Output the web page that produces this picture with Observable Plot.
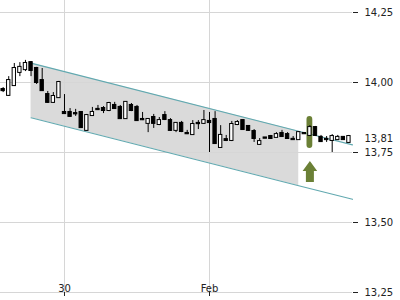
<!DOCTYPE html>
<html><head><meta charset="utf-8">
<script src="https://cdn.jsdelivr.net/npm/d3@7"></script>
<script src="https://cdn.jsdelivr.net/npm/@observablehq/plot@0.6"></script>
<style>html,body{margin:0;padding:0;background:#fff}#chart{width:400px;height:300px}</style>
</head><body><div id="chart"></div>
<script>
const opens = [13.975,13.954,13.989,14.036,14.046,14.071,14.050,14.007,13.957,13.929,
13.946,13.893,13.893,13.889,13.893,13.829,13.882,13.904,13.907,13.900,
13.918,13.911,13.871,13.918,13.911,13.868,13.854,13.875,13.850,13.882,
13.864,13.829,13.854,13.818,13.814,13.854,13.854,13.861,13.868,13.768,
13.796,13.793,13.850,13.864,13.843,13.825,13.779,13.802,13.807,13.804,
13.818,13.814,13.797,13.796,13.818,13.811,13.839,13.804,13.797,13.793,
13.796,13.804,13.786];
const highs = [13.982,14.021,14.068,14.071,14.079,14.075,14.054,14.050,13.968,13.964,
14.004,13.957,13.907,13.904,13.896,13.886,13.911,13.918,13.914,13.929,
13.929,13.918,13.932,13.925,13.918,13.893,13.871,13.886,13.875,13.896,
13.871,13.857,13.861,13.829,13.864,13.864,13.900,13.893,13.896,13.846,
13.811,13.861,13.864,13.866,13.846,13.832,13.800,13.803,13.811,13.821,
13.829,13.821,13.807,13.825,13.819,13.846,13.843,13.811,13.807,13.814,
13.811,13.807,13.811];
const lows = [13.964,13.950,13.986,14.021,14.039,14.021,13.993,13.968,13.925,13.925,
13.943,13.886,13.875,13.879,13.836,13.825,13.879,13.900,13.889,13.896,
13.904,13.868,13.868,13.896,13.861,13.864,13.821,13.836,13.846,13.864,
13.825,13.821,13.821,13.814,13.814,13.832,13.850,13.750,13.779,13.768,
13.789,13.789,13.846,13.829,13.825,13.786,13.775,13.800,13.800,13.804,
13.804,13.800,13.796,13.796,13.816,13.807,13.807,13.786,13.786,13.750,
13.793,13.793,13.782];
const closes = [13.971,14.007,14.050,14.054,14.068,14.043,14.000,13.971,13.929,13.950,
14.000,13.889,13.879,13.888,13.839,13.882,13.893,13.903,13.900,13.925,
13.907,13.871,13.929,13.900,13.864,13.867,13.868,13.854,13.864,13.868,
13.829,13.854,13.825,13.817,13.850,13.853,13.864,13.857,13.782,13.811,
13.793,13.850,13.857,13.832,13.829,13.800,13.789,13.801,13.800,13.814,
13.807,13.800,13.796,13.821,13.817,13.839,13.811,13.789,13.796,13.807,
13.804,13.796,13.807];

const xTickIndex = [11, 37];
const xTickLabels = ["30", "Feb"];
const yTicks = [13.25, 13.5, 13.75, 14.0, 14.25];

const channelIndex = [5, 53, 62.64];
const channelUpper = [14.069, 13.826, 13.7775];
const channelLower = [13.874, 13.6314, 13.5829];
const fillEndIndex = 53;

const signalIndex = 55;
const signalTop = 13.879;
const signalBottom = 13.764;
const arrowCenter = 13.682;

const candles = opens.map((o, i) => ({i, open: o, high: highs[i], low: lows[i], close: closes[i]}));
const channel = channelIndex.map((x, k) => ({i: x, upper: channelUpper[k], lower: channelLower[k]}));
const fmt = d => d3.format(".2f")(d).replace(".", ",");
const green = "#6b8036";
const teal = "#62a9b0";

const arrowSymbol = {
  draw(ctx) {
    ctx.moveTo(0, -10.5);
    ctx.lineTo(7.3, -0.5);
    ctx.lineTo(4, -0.5);
    ctx.lineTo(4, 10.5);
    ctx.lineTo(-4, 10.5);
    ctx.lineTo(-4, -0.5);
    ctx.lineTo(-7.3, -0.5);
    ctx.closePath();
  }
};

const last = candles[candles.length - 1];

const chart = Plot.plot({
  width: 400, height: 300,
  marginLeft: 0, marginRight: 48, marginTop: 0, marginBottom: 8,
  x: {type: "linear", domain: [-0.475, 62.64], axis: null},
  y: {domain: [13.25, 14.2929], axis: null},
  style: {fontFamily: "DejaVu Sans", fontSize: "10px", color: "#222", background: "white"},
  marks: [
    Plot.areaY(channel.filter(d => d.i <= fillEndIndex), {x: "i", y1: "lower", y2: "upper", fill: "#dadada"}),
    Plot.gridY(yTicks, {stroke: "#d6d6d6", strokeOpacity: 1}),
    Plot.gridX(xTickIndex, {stroke: "#d6d6d6", strokeOpacity: 1}),
    Plot.line(channel, {x: "i", y: "upper", stroke: teal, strokeWidth: 1.2}),
    Plot.line(channel, {x: "i", y: "lower", stroke: teal, strokeWidth: 1.2}),
    Plot.rect([signalIndex], {x1: d => d - 0.52, x2: d => d + 0.52, y1: signalBottom, y2: signalTop, fill: green, rx: 3}),
    Plot.ruleX(candles, {x: "i", y1: "low", y2: "high", stroke: "black", strokeWidth: 1}),
    Plot.rect(candles, {x1: d => d.i - 0.3, x2: d => d.i + 0.3, y1: "open", y2: "close",
      fill: d => d.close >= d.open ? "white" : "black", stroke: "black", strokeWidth: 1,
      insetTop: -0.5, insetBottom: -0.5}),
    Plot.dot([signalIndex], {x: d => d, y: arrowCenter, symbol: arrowSymbol, fill: green, stroke: "none", r: 5}),
    Plot.axisY(yTicks, {anchor: "right", label: null, tickSize: 5, tickPadding: 7, tickFormat: fmt, fontSize: 10, stroke: "#222"}),
    Plot.axisX(xTickIndex, {anchor: "bottom", label: null, tickSize: 4, tickPadding: -12, tickFormat: d => xTickLabels[xTickIndex.indexOf(d)], fontSize: 10, stroke: "#222"}),
    Plot.text([last], {y: "close", frameAnchor: "right", dx: 12, dy: 2, textAnchor: "start", text: d => fmt(d.close), fontSize: 10, fill: "#222"})
  ]
});
document.getElementById("chart").appendChild(chart);
</script>
</body></html>
